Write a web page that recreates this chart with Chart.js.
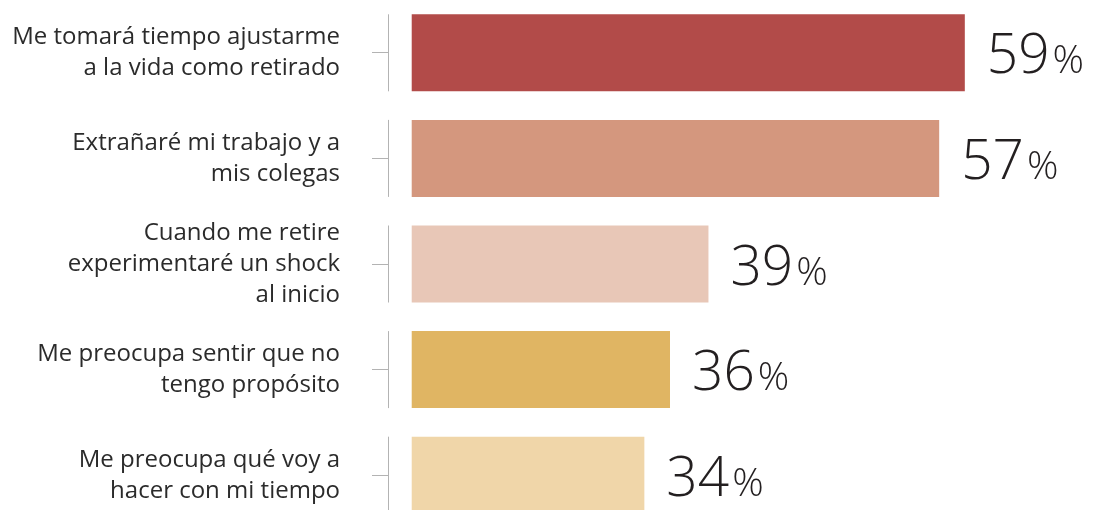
<!DOCTYPE html>
<html>
<head>
<meta charset="utf-8">
<script src="https://cdn.jsdelivr.net/npm/chart.js@4.4.1/dist/chart.umd.min.js"></script>
<style>
  html, body { margin: 0; padding: 0; background: #fff; overflow: hidden; }
  #wrap { position: relative; width: 1093px; height: 528px; }
</style>
</head>
<body>
<div id="wrap"><canvas id="c"></canvas></div>
<script>
const categories = [
  ["Me tomará tiempo ajustarme", "a la vida como retirado"],
  ["Extrañaré mi trabajo y a", "mis colegas"],
  ["Cuando me retire", "experimentaré un shock", "al inicio"],
  ["Me preocupa sentir que no", "tengo propósito"],
  ["Me preocupa qué voy a", "hacer con mi tiempo"]
];
const values = [59, 57, 39, 36, 34];
const barColors = ["#b24b49", "#d4977e", "#e8c7b7", "#e0b563", "#f0d6a9"];

const valueLabels = {
  id: 'valueLabels',
  afterDatasetsDraw(chart) {
    const ctx = chart.ctx;
    const meta = chart.getDatasetMeta(0);
    ctx.save();
    ctx.fillStyle = '#231f20';
    ctx.textBaseline = 'alphabetic';
    ctx.textAlign = 'left';
    meta.data.forEach((bar, i) => {
      const num = String(values[i]);
      const x = bar.x + 22;
      const y = bar.y + 20.5;
      ctx.font = '300 55px "Open Sans"';
      ctx.fillText(num, x, y);
      const w = ctx.measureText(num).width;
      ctx.font = '300 39px "Open Sans"';
      ctx.fillText('%', x + w + 3, y);
    });
    ctx.restore();
  }
};

function zeroPad(s) { s.paddingTop = 0; s.paddingBottom = 0; s.paddingLeft = 0; s.paddingRight = 0; }

new Chart(document.getElementById('c'), {
  type: 'bar',
  data: {
    labels: categories,
    datasets: [{
      data: values,
      backgroundColor: barColors,
      borderWidth: 0,
      base: 15.85,
      categoryPercentage: 1,
      barPercentage: 0.729
    }]
  },
  options: {
    indexAxis: 'y',
    responsive: true,
    maintainAspectRatio: false,
    animation: false,
    layout: { padding: 0 },
    plugins: { legend: { display: false }, tooltip: { enabled: false } },
    scales: {
      x: {
        min: 14,
        max: 69,
        afterBuildTicks: s => { s.ticks = [{ value: s.min }]; },
        afterFit: s => { s.height = 0; zeroPad(s); },
        ticks: { display: false },
        border: { display: false, dash: [77, 28.6], dashOffset: 91.3 },
        grid: { color: '#b3b3b3', lineWidth: 1, drawTicks: false, drawOnChartArea: true }
      },
      y: {
        afterFit: s => { s.width = 388; zeroPad(s); },
        border: { display: false },
        grid: { offset: false, drawOnChartArea: false, drawTicks: true, tickLength: 16, color: '#b3b3b3', lineWidth: 1 },
        ticks: {
          padding: 32,
          color: '#2b2b2b',
          font: { family: '"Open Sans"', size: 24, lineHeight: 31 / 24 }
        }
      }
    }
  },
  plugins: [valueLabels]
});
</script>
</body>
</html>
